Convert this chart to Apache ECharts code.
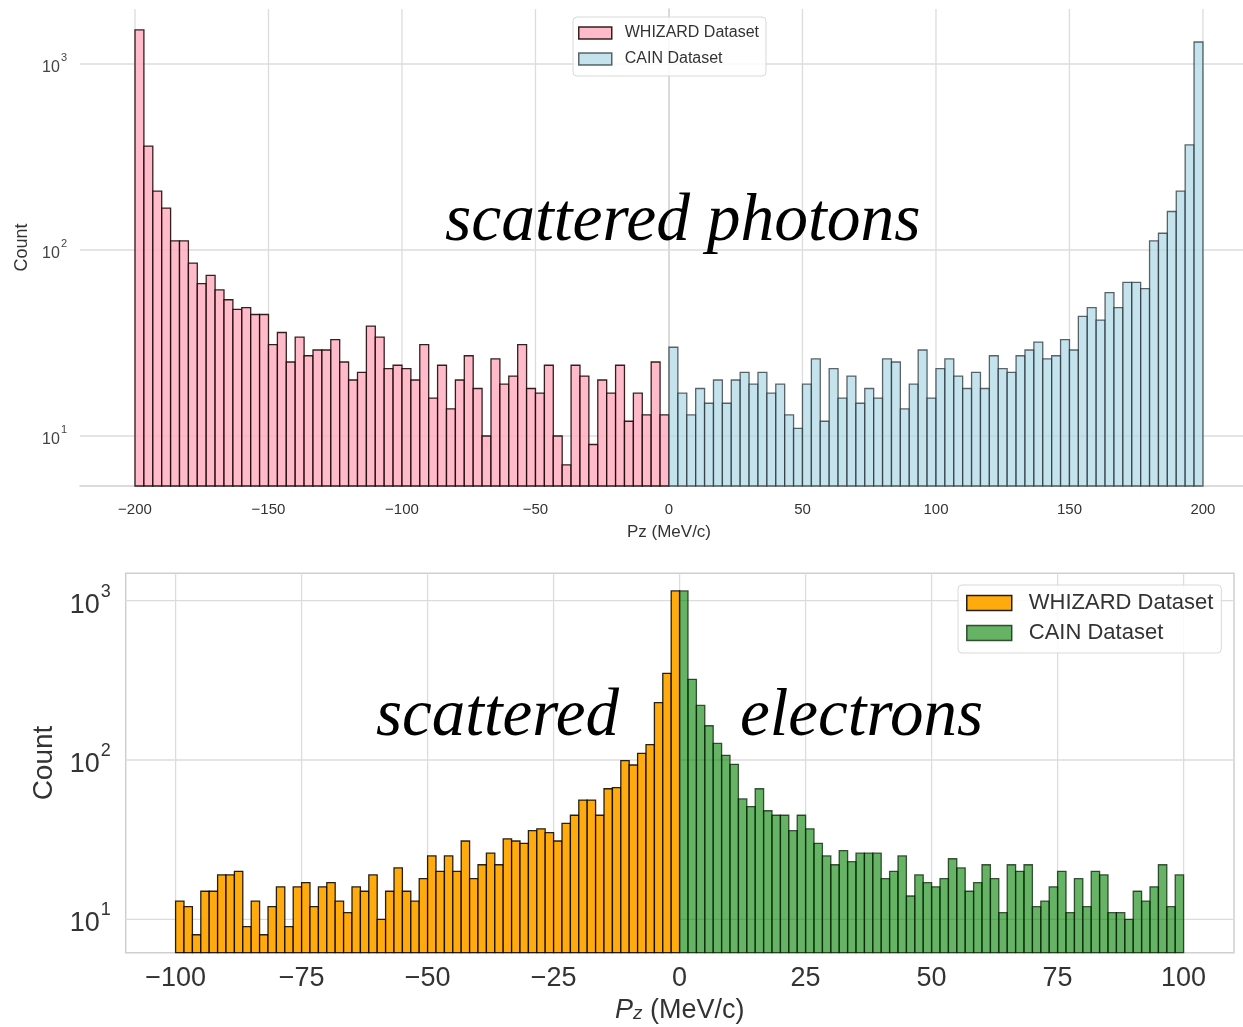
<!DOCTYPE html>
<html>
<head>
<meta charset="utf-8">
<script src="https://cdn.jsdelivr.net/npm/echarts@6/dist/echarts.min.js"></script>
<style>
  html, body { margin: 0; padding: 0; background: #ffffff; }
  #chart { width: 1243px; height: 1027px; }
</style>
</head>
<body>
<div id="chart"></div>
<script>
// Histogram counts, 60 equal-width bins per dataset
const photonWhizard = [1524, 362, 207, 168, 112, 112, 85, 66, 73, 61, 54, 48, 49, 45, 45, 31, 36, 25, 34, 27,
                       29, 29, 33, 25, 20, 22, 39, 34, 23, 24, 23, 20, 31, 16, 24, 14, 20, 27, 18, 10,
                       26, 19, 21, 31, 18, 17, 24, 10, 7, 24, 21, 9, 20, 17, 24, 12, 17, 13, 25, 13];
const photonCain = [30, 17, 13, 18, 15, 20, 15, 20, 22, 19, 22, 17, 19, 13, 11, 19, 26, 12, 23, 16,
                    21, 15, 18, 16, 26, 25, 14, 19, 29, 16, 23, 26, 21, 18, 22, 18, 27, 23, 22, 27,
                    29, 32, 26, 27, 33, 29, 44, 49, 42, 59, 49, 67, 67, 62, 112, 123, 161, 207, 367, 1313];
const electronWhizard = [13, 12, 8, 15, 15, 19, 19, 20, 9, 13, 8, 12, 16, 9, 16, 17, 12, 16, 17, 13,
                         11, 16, 15, 19, 10, 15, 21, 15, 13, 18, 25, 20, 25, 20, 31, 18, 22, 26, 22, 32,
                         31, 30, 36, 37, 35, 31, 40, 45, 56, 56, 45, 66, 67, 99, 93, 110, 125, 229, 350, 1151];
const electronCain = [1151, 321, 220, 164, 127, 107, 94, 57, 51, 66, 48, 45, 45, 36, 45, 37, 30, 25, 22, 27,
                      23, 26, 26, 26, 18, 20, 25, 14, 19, 17, 16, 18, 24, 21, 15, 17, 22, 18, 11, 22,
                      20, 22, 12, 13, 16, 20, 11, 18, 12, 20, 19, 11, 11, 10, 15, 13, 16, 22, 12, 19];

// Bin ranges (MeV/c)
const photonWhizardRange = [-200, 0];
const photonCainRange = [0, 200];
const electronWhizardRange = [-100, 0];
const electronCainRange = [0, 100];

// Tick values
const photonTicks = [-200, -150, -100, -50, 0, 50, 100, 150, 200];
const electronTicks = [-100, -75, -50, -25, 0, 25, 50, 75, 100];
const decadeTicks = [10, 100, 1000];

const seriesNames = ['WHIZARD Dataset', 'CAIN Dataset'];

// Axis extents
const photonX = [-220.6, 215.0];
const photonY = [5.385, 1975];
const electronX = [-109.9, 110.0];
const electronY = [6.17, 1486];

const SANS = '"Liberation Sans", Arial, sans-serif';
const SERIF = '"Liberation Serif", "Times New Roman", serif';

function toBins(counts, range) {
  const w = (range[1] - range[0]) / counts.length;
  return counts.map((c, i) => [range[0] + i * w, range[0] + (i + 1) * w, c]);
}

function barSeries(name, counts, range, gridIdx, yMin, fill, stroke) {
  return {
    type: 'custom',
    name: name,
    xAxisIndex: gridIdx,
    yAxisIndex: gridIdx,
    z: 3,
    silent: true,
    itemStyle: { color: fill, borderColor: stroke },
    encode: { x: [0, 1], y: 2 },
    data: toBins(counts, range),
    renderItem: function (params, api) {
      const topLeft = api.coord([api.value(0), api.value(2)]);
      const bottomRight = api.coord([api.value(1), yMin]);
      return {
        type: 'rect',
        shape: {
          x: topLeft[0], y: topLeft[1],
          width: bottomRight[0] - topLeft[0],
          height: bottomRight[1] - topLeft[1]
        },
        style: { fill: fill, stroke: stroke, lineWidth: 1.3 }
      };
    }
  };
}

// Grid lines drawn through the axis scales
function gridLineSeries(data, gridIdx, vertical, xr, yr) {
  return {
    type: 'custom',
    xAxisIndex: gridIdx,
    yAxisIndex: gridIdx,
    z: 1,
    silent: true,
    encode: { x: 0, y: 1 },
    data: data,
    renderItem: function (params, api) {
      let a, b;
      if (vertical) {
        a = api.coord([api.value(0), yr[0]]);
        b = api.coord([api.value(0), yr[1]]);
      } else {
        a = api.coord([xr[0], api.value(1)]);
        b = api.coord([xr[1], api.value(1)]);
      }
      return {
        type: 'line',
        shape: { x1: a[0], y1: a[1], x2: b[0], y2: b[1] },
        style: { stroke: '#dcdcdc', lineWidth: 1.3 }
      };
    }
  };
}

function minusFmt(v) {
  return v < 0 ? '\u2212' + Math.abs(v) : String(v);
}

function decadeFmt(v) {
  const l = Math.log10(v);
  const e = Math.round(l);
  return Math.abs(l - e) < 1e-6 ? '{b|10}{s|' + e + '}' : '';
}

const PINK = 'rgba(255,172,190,0.82)', PINK_EDGE = 'rgba(25,5,5,0.88)';
const BLUE = 'rgba(173,216,230,0.72)', BLUE_EDGE = 'rgba(35,45,50,0.72)';
const ORANGE = 'rgba(255,165,0,0.95)', ORANGE_EDGE = 'rgba(0,0,0,0.85)';
const GREEN = 'rgba(0,128,0,0.6)', GREEN_EDGE = 'rgba(0,25,0,0.72)';

const option = {
  backgroundColor: '#ffffff',
  animation: false,
  grid: [
    { left: 80, top: 9, width: 1163, height: 477, show: false },
    { left: 125.7, top: 573.3, width: 1108.3, height: 379.4, show: true,
      borderColor: '#cfcfcf', borderWidth: 1.5 }
  ],
  xAxis: [
    {
      type: 'value', gridIndex: 0, min: photonX[0], max: photonX[1],
      name: 'Pz (MeV/c)', nameLocation: 'middle', nameGap: 38,
      nameTextStyle: { fontFamily: SANS, fontSize: 17, color: '#333', padding: [0, 0, 0, 15] },
      axisLine: { show: true, lineStyle: { color: '#cfcfcf', width: 1.5 } },
      axisTick: { show: false, customValues: photonTicks },
      splitLine: { show: false },
      axisLabel: { customValues: photonTicks, formatter: minusFmt, margin: 16,
                   fontFamily: SANS, fontSize: 15, color: '#333' }
    },
    {
      type: 'value', gridIndex: 1, min: electronX[0], max: electronX[1],
      name: '{i|P}{sub|z} (MeV/c)', nameLocation: 'middle', nameGap: 44,
      nameTextStyle: {
        fontFamily: SANS, fontSize: 27, color: '#333',
        rich: {
          i: { fontFamily: SANS, fontSize: 27, fontStyle: 'italic', color: '#333' },
          sub: { fontFamily: SANS, fontSize: 19, fontStyle: 'italic', color: '#333', padding: [8, 0, 0, 0] }
        }
      },
      axisLine: { show: false },
      axisTick: { show: false, customValues: electronTicks },
      splitLine: { show: false },
      axisLabel: { customValues: electronTicks, formatter: minusFmt, margin: 12,
                   fontFamily: SANS, fontSize: 27, color: '#333' }
    }
  ],
  yAxis: [
    {
      type: 'log', logBase: 10, gridIndex: 0, min: photonY[0], max: photonY[1],
      name: 'Count', nameLocation: 'middle', nameGap: 44,
      nameTextStyle: { fontFamily: SANS, fontSize: 18, color: '#333' },
      axisLine: { show: true, lineStyle: { color: '#cfcfcf', width: 1.5 } },
      axisTick: { show: false },
      minorTick: { show: false },
      splitLine: { show: false },
      axisLabel: {
        formatter: decadeFmt, margin: 13,
        rich: {
          b: { fontFamily: SANS, fontSize: 16, color: '#444', lineHeight: 24, verticalAlign: 'bottom' },
          s: { fontFamily: SANS, fontSize: 11, color: '#444', lineHeight: 13, verticalAlign: 'top', padding: [0, 0, 0, 1] }
        }
      }
    },
    {
      type: 'log', logBase: 10, gridIndex: 1, min: electronY[0], max: electronY[1],
      name: 'Count', nameLocation: 'middle', nameGap: 66,
      nameTextStyle: { fontFamily: SANS, fontSize: 28, color: '#333' },
      axisLine: { show: false },
      axisTick: { show: false },
      minorTick: { show: false },
      splitLine: { show: false },
      axisLabel: {
        formatter: decadeFmt, margin: 15,
        rich: {
          b: { fontFamily: SANS, fontSize: 27, color: '#333', lineHeight: 36, verticalAlign: 'bottom' },
          s: { fontFamily: SANS, fontSize: 18, color: '#333', lineHeight: 20, verticalAlign: 'top', padding: [0, 0, 0, 1] }
        }
      }
    }
  ],
  legend: [
    {
      orient: 'vertical', left: 573, top: 17, padding: [8, 7, 9, 5],
      itemWidth: 33, itemHeight: 12, itemGap: 10, icon: 'rect', selectedMode: false,
      backgroundColor: 'rgba(255,255,255,0.85)', borderColor: '#d9d9d9', borderWidth: 1, borderRadius: 4,
      textStyle: { fontFamily: SANS, fontSize: 16, color: '#333', padding: [0, 0, 0, 8] },
      data: [
        { name: seriesNames[0], itemStyle: { color: PINK, borderColor: PINK_EDGE, borderWidth: 1.5 } },
        { name: seriesNames[1], itemStyle: { color: BLUE, borderColor: BLUE_EDGE, borderWidth: 1.5 } }
      ]
    },
    {
      orient: 'vertical', left: 958, top: 585, padding: [7, 8, 9, 8],
      itemWidth: 45, itemHeight: 15, itemGap: 8, icon: 'rect', selectedMode: false,
      backgroundColor: 'rgba(255,255,255,0.85)', borderColor: '#d9d9d9', borderWidth: 1, borderRadius: 4,
      textStyle: { fontFamily: SANS, fontSize: 22, color: '#333', padding: [0, 0, 0, 12] },
      data: [
        { name: seriesNames[0], itemStyle: { color: ORANGE, borderColor: ORANGE_EDGE, borderWidth: 1.5 } },
        { name: seriesNames[1], itemStyle: { color: GREEN, borderColor: GREEN_EDGE, borderWidth: 1.5 } }
      ]
    }
  ],
  graphic: [
    { type: 'text', x: 445, y: 188, z: 10, silent: true,
      style: { text: 'scattered photons', font: 'italic 67.5px ' + SERIF, fill: '#000', verticalAlign: 'top' } },
    { type: 'text', x: 376, y: 684, z: 10, silent: true,
      style: { text: 'scattered', font: 'italic 67px ' + SERIF, fill: '#000', verticalAlign: 'top' } },
    { type: 'text', x: 740, y: 684, z: 10, silent: true,
      style: { text: 'electrons', font: 'italic 67px ' + SERIF, fill: '#000', verticalAlign: 'top' } }
  ],
  series: [
    gridLineSeries(photonTicks.map(v => [v, photonY[0]]), 0, true, photonX, photonY),
    gridLineSeries(decadeTicks.map(v => [photonX[0], v]), 0, false, photonX, photonY),
    gridLineSeries(electronTicks.map(v => [v, electronY[0]]), 1, true, electronX, electronY),
    gridLineSeries(decadeTicks.map(v => [electronX[0], v]), 1, false, electronX, electronY),
    barSeries(seriesNames[0], photonWhizard, photonWhizardRange, 0, photonY[0], PINK, PINK_EDGE),
    barSeries(seriesNames[1], photonCain, photonCainRange, 0, photonY[0], BLUE, BLUE_EDGE),
    barSeries(seriesNames[0], electronWhizard, electronWhizardRange, 1, electronY[0], ORANGE, ORANGE_EDGE),
    barSeries(seriesNames[1], electronCain, electronCainRange, 1, electronY[0], GREEN, GREEN_EDGE)
  ]
};

const chart = echarts.init(document.getElementById('chart'), null, { renderer: 'canvas' });
chart.setOption(option);
</script>
</body>
</html>
